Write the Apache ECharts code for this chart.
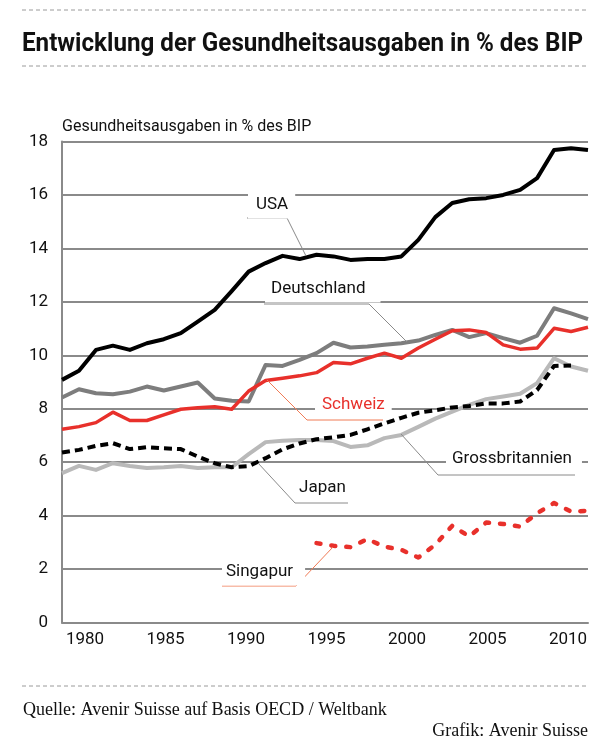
<!DOCTYPE html>
<html>
<head>
<meta charset="utf-8">
<script src="https://cdn.jsdelivr.net/npm/echarts@6.0.0/dist/echarts.min.js"></script>
<style>
  html, body { margin: 0; padding: 0; background: #fff; }
  #chart { width: 610px; height: 749px; }
</style>
</head>
<body>
<div id="chart"></div>
<script>
// Jahre und Werte (Gesundheitsausgaben in % des BIP)
var years = [1980, 1981, 1982, 1983, 1984, 1985, 1986, 1987, 1988, 1989,
             1990, 1991, 1992, 1993, 1994, 1995, 1996, 1997, 1998, 1999,
             2000, 2001, 2002, 2003, 2004, 2005, 2006, 2007, 2008, 2009,
             2010, 2011];
var usa = [9.08, 9.42, 10.2, 10.36, 10.2, 10.45, 10.6, 10.83, 11.26, 11.7,
           12.4, 13.13, 13.45, 13.72, 13.6, 13.76, 13.7, 13.57, 13.6, 13.6,
           13.7, 14.32, 15.17, 15.7, 15.84, 15.88, 16.0, 16.19, 16.63, 17.68,
           17.75, 17.68];
var deutschland = [8.42, 8.73, 8.58, 8.54, 8.64, 8.83, 8.68, 8.83, 8.98, 8.38,
                   8.3, 8.27, 9.64, 9.6, 9.83, 10.08, 10.47, 10.29, 10.33, 10.39,
                   10.45, 10.55, 10.76, 10.95, 10.68, 10.83, 10.64, 10.47, 10.73, 11.76,
                   11.57, 11.35];
var schweiz = [7.23, 7.33, 7.48, 7.87, 7.56, 7.56, 7.77, 7.98, 8.04, 8.07,
               7.98, 8.66, 9.06, 9.14, 9.23, 9.35, 9.73, 9.68, 9.89, 10.08,
               9.89, 10.27, 10.6, 10.92, 10.95, 10.85, 10.39, 10.23, 10.27, 11.01,
               10.89, 11.05];
var grossbritannien = [5.59, 5.86, 5.71, 5.96, 5.86, 5.78, 5.81, 5.86, 5.78, 5.81,
                       5.81, 6.3, 6.75, 6.8, 6.83, 6.83, 6.79, 6.57, 6.63, 6.9,
                       7.02, 7.32, 7.63, 7.89, 8.14, 8.36, 8.46, 8.56, 8.96, 9.89,
                       9.58, 9.42];
var japan = [6.36, 6.46, 6.61, 6.71, 6.49, 6.56, 6.52, 6.49, 6.21, 5.96,
             5.81, 5.85, 6.15, 6.48, 6.7, 6.86, 6.93, 7.02, 7.23, 7.45,
             7.66, 7.85, 7.94, 8.05, 8.1, 8.2, 8.2, 8.27, 8.7, 9.6,
             9.62, null];
var singapur = [null, null, null, null, null, null, null, null, null, null,
                null, null, null, null, null, 2.97, 2.87, 2.82, 3.12, 2.84,
                2.72, 2.43, 2.91, 3.62, 3.22, 3.74, 3.69, 3.59, 4.09, 4.47,
                4.15, 4.18];
var yearLabels = [1980, 1985, 1990, 1995, 2000, 2005, 2010];

var fontSans = 'Roboto, "DejaVu Sans", sans-serif';
var fontSerif = '"Liberation Serif", "DejaVu Serif", serif';

function pairs(values) {
    return years.map(function (y, i) { return [y, values[i]]; });
}

function lineSeries(name, values, color, width, dash, cap) {
    return {
        name: name,
        type: 'line',
        data: pairs(values),
        symbol: 'none',
        silent: true,
        connectNulls: false,
        lineStyle: { color: color, width: width, type: dash || 'solid', cap: cap || 'butt', join: 'round' }
    };
}

// Beschriftungen mit Hinweislinien
var notes = [
    { text: 'USA', x: 248, y: 205, color: '#111', pad: [8, 7], line: [[306, 256], [287, 218], [247, 218]], lineColor: '#8a8a8a' },
    { text: 'Deutschland', x: 265, y: 289, color: '#111', pad: [6, 15], line: [[407, 342], [369, 304], [264, 304]], lineColor: '#8a8a8a' },
    { text: 'Schweiz', x: 315, y: 405, color: '#e8302b', pad: [7, 7], line: [[267, 380], [307, 420], [383, 420]], lineColor: '#f07a55' },
    { text: 'Grossbritannien', x: 446, y: 459, color: '#111', pad: [6, 10], line: [[401, 434], [438, 475], [575, 475]], lineColor: '#8a8a8a' },
    { text: 'Japan', x: 299, y: 488, color: '#111', pad: [0, 0], line: [[258, 463], [295, 503], [348, 503]], lineColor: '#8a8a8a' },
    { text: 'Singapur', x: 222, y: 572, color: '#111', pad: [4, 12], line: [[333, 547], [296, 586], [222, 586]], lineColor: '#f07a55' }
];

function dashedRule(y) {
    return {
        type: 'line', z: 100,
        shape: { x1: 22, y1: y, x2: 588, y2: y },
        style: { stroke: '#9a9a9a', lineWidth: 1, lineDash: [4, 3] }
    };
}

var graphics = [dashedRule(10), dashedRule(66), dashedRule(686)];
// Titel, etwas schmaler gesetzt
graphics.push({
    type: 'text', z: 101, x: 22, y: 44, scaleX: 0.93,
    style: { text: 'Entwicklung der Gesundheitsausgaben in % des BIP', x: 0, y: 0,
             fill: '#111', font: 'bold 26px ' + fontSans, textVerticalAlign: 'middle' }
});
notes.forEach(function (n) {
    graphics.push({
        type: 'text', z: 101,
        style: {
            text: n.text, x: n.x, y: n.y, fill: n.color,
            font: '17px ' + fontSans, textVerticalAlign: 'middle',
            backgroundColor: '#fff',
            padding: [5, n.pad[1], 5, n.pad[0]]
        }
    });
    graphics.push({
        type: 'polyline', z: 100,
        shape: { points: n.line },
        style: { stroke: n.lineColor, lineWidth: 1, fill: null }
    });
});
graphics.push({
    type: 'text', z: 101,
    style: { text: 'Quelle: Avenir Suisse auf Basis OECD / Weltbank', x: 23, y: 710,
             fill: '#111', font: '18px ' + fontSerif, textVerticalAlign: 'middle' }
});
graphics.push({
    type: 'text', z: 101,
    style: { text: 'Grafik: Avenir Suisse', x: 588, y: 731, textAlign: 'right',
             fill: '#111', font: '18px ' + fontSerif, textVerticalAlign: 'middle' }
});

var myChart = echarts.init(document.getElementById('chart'));

var option = {
    animation: false,
    backgroundColor: '#fff',
    grid: { left: 62, right: 22, top: 141.5, bottom: 126.5 },
    xAxis: [
        {   // Datenachse
            type: 'value', min: 1980, max: 2011,
            axisLine: { show: true, lineStyle: { color: '#8a8a8a', width: 2 } },
            axisTick: { show: false },
            axisLabel: { show: false },
            splitLine: { show: false }
        },
        {   // nur Jahresbeschriftung
            type: 'value', position: 'bottom', min: 1978.57, max: 2011.24,
            axisLine: { show: false },
            axisTick: { show: false },
            splitLine: { show: false },
            axisLabel: {
                customValues: yearLabels,
                formatter: function (v) { return String(Math.round(v)); },
                fontFamily: fontSans, fontSize: 17, color: '#111', margin: 9
            }
        }
    ],
    yAxis: {
        type: 'value', min: 0, max: 18, interval: 2,
        name: 'Gesundheitsausgaben in % des BIP',
        nameLocation: 'end', nameGap: 7,
        nameTextStyle: { align: 'left', fontFamily: fontSans, fontSize: 16, color: '#111' },
        axisLine: { show: true, lineStyle: { color: '#8a8a8a', width: 2 } },
        axisTick: { show: false },
        axisLabel: { fontFamily: fontSans, fontSize: 17, color: '#111', margin: 14 },
        splitLine: { lineStyle: { color: '#8a8a8a', width: 2 } }
    },
    graphic: graphics,
    series: [
        lineSeries('Grossbritannien', grossbritannien, '#b9b9b9', 4),
        lineSeries('Japan', japan, '#000', 4, [8, 5]),
        lineSeries('Deutschland', deutschland, '#7d7d7d', 4),
        lineSeries('Schweiz', schweiz, '#e8302b', 3.5),
        lineSeries('Singapur', singapur, '#e8302b', 4.5, [4, 11], 'round'),
        lineSeries('USA', usa, '#000', 4)
    ]
};

myChart.setOption(option);
</script>
</body>
</html>
